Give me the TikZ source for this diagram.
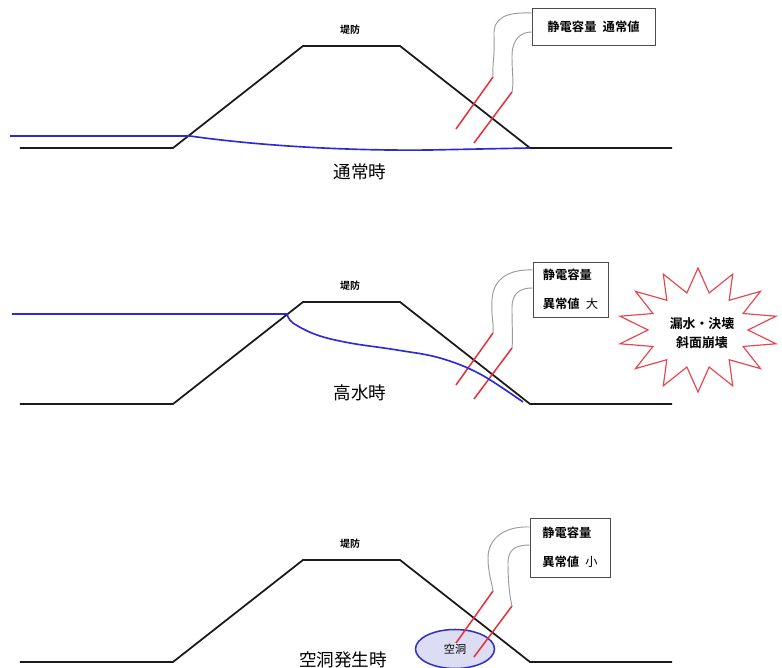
\documentclass[tikz,border=0pt]{standalone}
\usepackage{fontspec}
\setmainfont{Noto Sans CJK JP}[BoldFont={Noto Sans CJK JP Bold}]
\usepackage{xcolor}
\usetikzlibrary{shapes.geometric,calc}
\definecolor{dikeblack}{HTML}{1A1A1A}
\definecolor{waterblue}{HTML}{2A2AD6}
\definecolor{sensorred}{HTML}{E5313B}
\definecolor{cablegray}{HTML}{9A9A9A}
\definecolor{voidfill}{HTML}{DCDCF2}
\definecolor{voidblue}{HTML}{3030C8}

\begin{document}
\begin{tikzpicture}[x=3cm,y=3cm]

%% ── helpers ───────────────────────────────────────────────
\tikzset{
  dike/.style={draw=dikeblack,line width=1.5pt,line join=round},
  water/.style={draw=waterblue,line width=1.4pt},
  sensor/.style={draw=sensorred,line width=1.3pt},
  cable/.style={draw=cablegray,line width=0.8pt},
  infobox/.style={rectangle,draw=black!70,line width=0.6pt,fill=white,
                  inner sep=3pt,align=left,font=\fontsize{10.5}{25}\selectfont\bfseries},
  dikelabel/.style={font=\fontsize{8.5}{10}\selectfont\bfseries},
  statelabel/.style={font=\fontsize{15}{17}\selectfont},
  burstline/.style={draw=sensorred!90,line width=1pt,line join=miter},
}
\useasboundingbox (0,0) rectangle (7.82,6.68);

%% ── cavity (under the slope, drawn first) ────────────────
\node[ellipse,draw=voidblue,fill=voidfill,line width=1.3pt,
      minimum width=2.37cm,minimum height=1.17cm,text depth=-4pt,
      font=\fontsize{9.5}{11}\selectfont] (void) at (4.55,0.19) {空洞};

%% ── dike, sensors and label for each case ────────────────
\foreach \p/\dy in {1/0, 2/-2.56, 3/-5.14} {
  \begin{scope}[shift={(0,\dy)}]
    \draw[dike] (0.20,5.20) -- (1.73,5.20) -- (3.03,6.22) -- (4.00,6.22)
                -- (5.30,5.20) -- (6.72,5.20);
    \node[dikelabel] (dl\p) at (3.50,6.38) {堤防};
    \draw[sensor] (4.93,5.91) coordinate (sa\p) -- (4.56,5.39);
    \draw[sensor] (5.12,5.76) coordinate (sb\p) -- (4.74,5.25);
  \end{scope}
}

%% ── normal case ──────────────────────────────────────────
\draw[water] (0.10,5.32) -- (1.90,5.32)
  .. controls (2.60,5.22) and (3.50,5.17) .. (4.30,5.18)
  .. controls (4.80,5.19) .. (5.30,5.20);

\node[infobox,align=center,minimum width=3.69cm,minimum height=1.11cm]
  (box1) at (5.935,6.415) {静電容量\hspace{0.5em}通常値};
\draw[cable] ([yshift=4.05mm]box1.west) .. controls (5.05,6.56) and (4.93,6.50) .. (4.94,6.32)
  .. controls (4.95,6.12) and (4.92,6.02) .. (sa1);
\draw[cable] ([yshift=-1.65mm]box1.west) .. controls (5.22,6.36) and (5.12,6.30) .. (5.12,6.12)
  .. controls (5.12,5.95) and (5.14,5.85) .. (sb1);

\node[statelabel] (normal) at (3.60,4.96) {通常時};

%% ── high water ───────────────────────────────────────────
\draw[water] (0.12,3.54) -- plot[smooth,tension=0.6] coordinates
  {(2.87,3.54) (2.93,3.45) (3.17,3.33) (3.50,3.25) (3.97,3.18)
   (4.40,3.10) (4.80,2.94) (5.23,2.66)};

\node[infobox,minimum width=2.25cm,minimum height=1.65cm]
  (box2) at (5.705,3.785) {静電容量\\異常値\hspace{0.5em}{\mdseries 大}};
\draw[cable] ([yshift=5.85mm]box2.west) .. controls (5.10,3.99) and (4.93,3.90) .. (4.92,3.68)
  .. controls (4.91,3.50) and (4.94,3.45) .. (sa2);
\draw[cable] ([yshift=0.45mm]box2.west) .. controls (5.20,3.80) and (5.12,3.75) .. (5.12,3.60)
  .. controls (5.12,3.40) and (5.13,3.30) .. (sb2);

\node[statelabel] (flood) at (3.60,2.75) {高水時};

% warning burst
\coordinate (burstc) at (6.98,3.38);
\draw[burstline] ($(burstc)+(0,0.62)$)
  \foreach \k in {0,...,13} {
    -- ($(burstc)+({0.50*cos(90+(\k+0.5)*360/14)},{0.38*sin(90+(\k+0.5)*360/14)})$)
    -- ($(burstc)+({0.80*cos(90+(\k+1)*360/14)},{0.62*sin(90+(\k+1)*360/14)})$)
  } -- cycle;
\node[align=center,font=\fontsize{11}{16}\selectfont\bfseries] (burst) at (7.02,3.35)
  {漏水・決壊\\斜面崩壊};

%% ── cavity case ──────────────────────────────────────────
\node[infobox,minimum width=2.40cm,minimum height=1.77cm]
  (box3) at (5.70,1.205) {静電容量\\異常値\hspace{0.5em}{\mdseries 小}};
\draw[cable] ([yshift=6.15mm]box3.west) .. controls (5.05,1.42) and (4.88,1.30) .. (4.88,1.10)
  .. controls (4.88,0.95) and (4.92,0.85) .. (sa3);
\draw[cable] ([yshift=0.75mm]box3.west) .. controls (5.15,1.23) and (5.08,1.18) .. (5.08,1.05)
  .. controls (5.08,0.85) and (5.10,0.70) .. (sb3);

\node[statelabel] (cavity) at (3.43,0.08) {空洞発生時};

\end{tikzpicture}
\end{document}
